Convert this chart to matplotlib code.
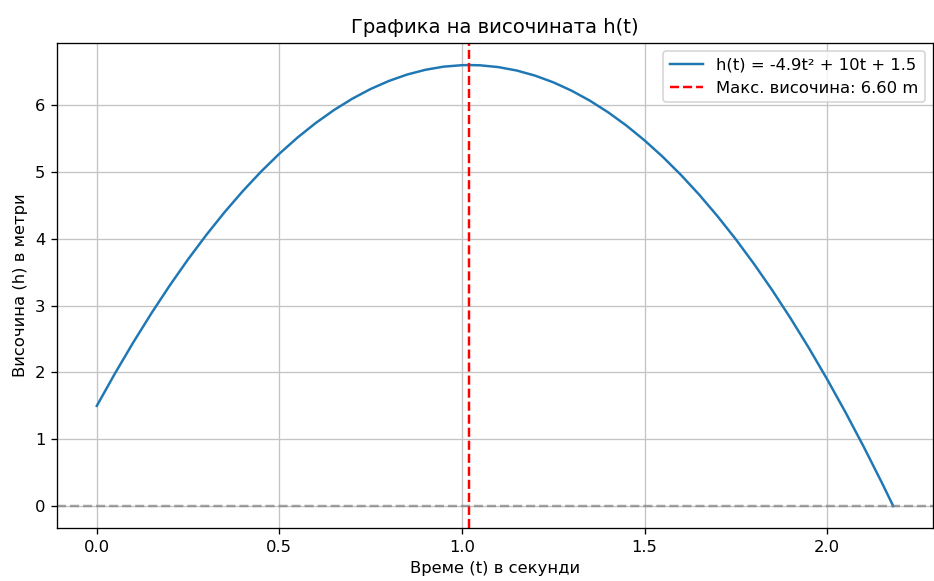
import matplotlib
matplotlib.use('Agg')
import matplotlib.pyplot as plt

# h(t) values
t = [0.0, 0.05, 0.10, 0.15, 0.20, 0.25, 0.30, 0.35, 0.40, 0.45, 0.50,
     0.55, 0.60, 0.65, 0.70, 0.75, 0.80, 0.85, 0.90, 0.95, 1.00, 1.0204,
     1.05, 1.10, 1.15, 1.20, 1.25, 1.30, 1.35, 1.40, 1.45, 1.50, 1.55,
     1.60, 1.65, 1.70, 1.75, 1.80, 1.85, 1.90, 1.95, 2.00, 2.05, 2.10,
     2.15, 2.1812]
h = [1.500, 1.988, 2.451, 2.890, 3.304, 3.694, 4.059, 4.400, 4.716, 5.008, 5.275,
     5.518, 5.736, 5.930, 6.099, 6.244, 6.364, 6.460, 6.531, 6.578, 6.600, 6.602,
     6.598, 6.571, 6.520, 6.444, 6.344, 6.219, 6.070, 5.896, 5.698, 5.475, 5.228,
     4.956, 4.660, 4.339, 3.994, 3.624, 3.230, 2.811, 2.368, 1.900, 1.408, 0.891,
     0.350, 0.000]
t_max = 1.0204
h_max = 6.60

# original looks like a 100dpi plot shown ~1.18x larger
fig = plt.figure(figsize=(934 / 118, 581 / 118), dpi=118)
ax = fig.add_axes([0.061, 0.091, 0.938, 0.835])

ax.plot(t, h, color='#1f77b4', label='h(t) = -4.9t² + 10t + 1.5')
ax.axvline(t_max, color='red', linestyle='--', label=f'Макс. височина: {h_max:.2f} m')
ax.axhline(0, color='gray', linestyle='--', alpha=0.7)

ax.set_title('Графика на височината h(t)', fontsize=12)
ax.set_xlabel('Време (t) в секунди')
ax.set_ylabel('Височина (h) в метри')
ax.grid(True, color='#c4c4c4')
ax.legend(loc='upper right')

plt.savefig('out.png', dpi=118)
